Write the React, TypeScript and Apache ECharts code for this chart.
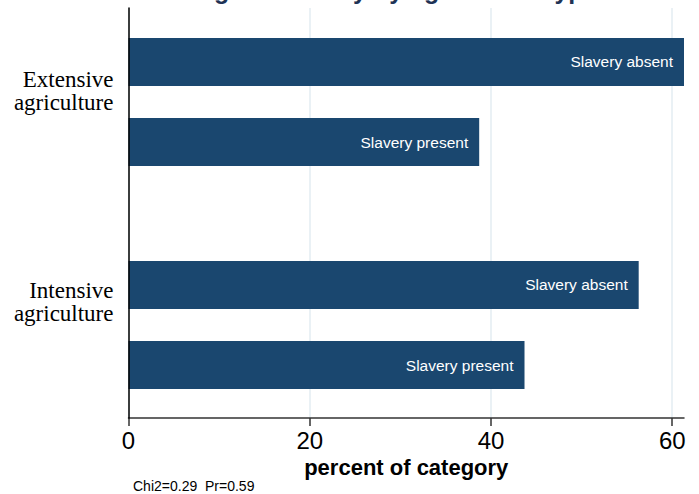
import React, { useEffect, useRef } from "react";
import * as echarts from "echarts";

const categories = ["Extensive agriculture", "Intensive agriculture"];
const categoryLines = [
  ["Extensive", "agriculture"],
  ["Intensive", "agriculture"],
];
const seriesNames = ["Slavery absent", "Slavery present"];
const slaveryAbsent = [61.3, 56.3];
const slaveryPresent = [38.7, 43.7];
const xTicks = [0, 20, 40, 60];
const titleText = "Percentage of slavery by agriculture type";
const xAxisTitle = "percent of category";
const noteText = "Chi2=0.29  Pr=0.59";

// blank lines appended below each category label to lift it (layout only)
const labelLift = [1, 2];

export default function App() {
  const ref = useRef<HTMLDivElement>(null);
  useEffect(() => {
    if (!ref.current) return;
    const chart = echarts.init(ref.current, null, { renderer: "svg" });
    const xMax = Math.max(...slaveryAbsent, ...slaveryPresent);
    const left = 128.5;
    const right = 699 - 684;
    const sans = "Liberation Sans";
    const barColor = "#1a476f";
    const barLabel = {
      show: true,
      position: "insideRight",
      distance: 11,
      formatter: "{a}",
      color: "#ffffff",
      fontSize: 15.5,
      fontFamily: sans,
    };
    chart.setOption({
      animation: false,
      backgroundColor: "#ffffff",
      grid: [
        { left, right, top: 8, bottom: 76, outerBoundsMode: "none", containLabel: false },
        { left, right, top: -9.5, bottom: 57.5, outerBoundsMode: "none", containLabel: false },
      ],
      xAxis: [
        {
          gridIndex: 0,
          type: "value",
          min: 0,
          max: xMax,
          interval: 20,
          axisLine: { show: true, lineStyle: { color: "#333333", width: 1.5 } },
          axisTick: {
            show: true,
            length: 8,
            customValues: xTicks,
            lineStyle: { color: "#333333", width: 1.5 },
          },
          axisLabel: {
            customValues: xTicks,
            fontSize: 24,
            color: "#000000",
            fontFamily: sans,
            margin: 10,
          },
          splitLine: { show: true, lineStyle: { color: "#e3edf2", width: 1.5 } },
          name: xAxisTitle,
          nameLocation: "middle",
          nameGap: 34,
          nameTextStyle: {
            fontSize: 22,
            fontWeight: "bold",
            color: "#000000",
            fontFamily: sans,
          },
        },
        { gridIndex: 1, type: "value", min: 0, max: xMax, show: false },
      ],
      yAxis: [
        {
          gridIndex: 0,
          type: "category",
          data: categories,
          inverse: true,
          z: 3,
          axisLine: { show: true, lineStyle: { color: "#000000", width: 1.5 } },
          axisTick: { show: false },
          axisLabel: { show: false },
          splitLine: { show: false },
        },
        {
          gridIndex: 1,
          type: "category",
          data: categories,
          inverse: true,
          axisLine: { show: false },
          axisTick: { show: false },
          splitLine: { show: false },
          axisLabel: {
            margin: 15,
            formatter: (_v: string, i: number) =>
              categoryLines[i].join("\n") + "\n ".repeat(labelLift[i]),
            fontFamily: "Liberation Serif",
            fontSize: 23,
            lineHeight: 23,
            color: "#000000",
            align: "right",
          },
        },
      ],
      series: [
        {
          name: seriesNames[0],
          type: "bar",
          xAxisIndex: 1,
          yAxisIndex: 1,
          data: slaveryAbsent,
          barWidth: 48,
          barGap: "66.67%",
          itemStyle: { color: barColor },
          label: barLabel,
        },
        {
          name: seriesNames[1],
          type: "bar",
          xAxisIndex: 1,
          yAxisIndex: 1,
          data: slaveryPresent,
          barWidth: 48,
          barGap: "66.67%",
          itemStyle: { color: barColor },
          label: barLabel,
        },
      ],
      graphic: [
        {
          type: "text",
          x: 353,
          y: -10.5,
          style: {
            text: titleText,
            textAlign: "center",
            textVerticalAlign: "middle",
            font: `bold 25px "${sans}"`,
            fill: "#1f3355",
          },
        },
        {
          type: "text",
          x: 133,
          y: 486,
          style: {
            text: noteText,
            textAlign: "left",
            textVerticalAlign: "middle",
            font: `14px "${sans}"`,
            fill: "#000000",
          },
        },
      ],
    });
    return () => chart.dispose();
  }, []);
  return (
    <div
      ref={ref}
      style={{ position: "fixed", left: 0, top: 0, width: 699, height: 494 }}
    />
  );
}
